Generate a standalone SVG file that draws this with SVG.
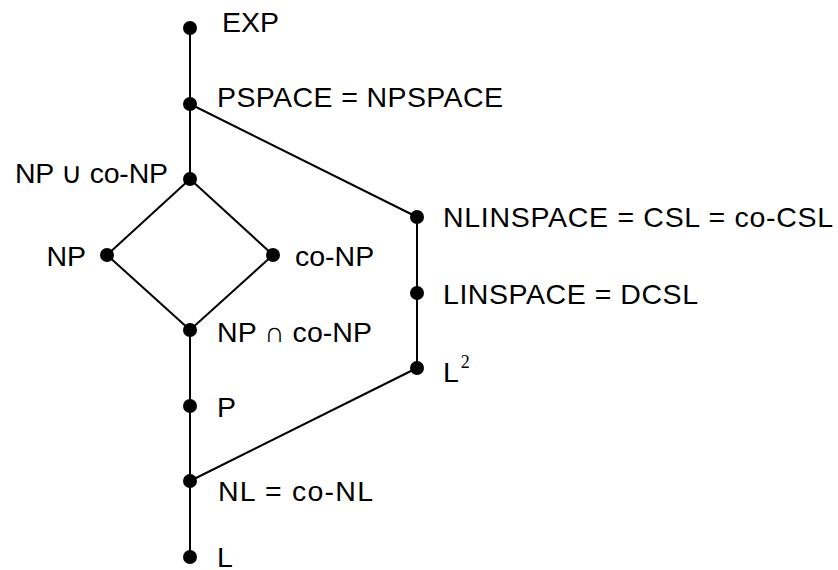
<svg xmlns="http://www.w3.org/2000/svg" width="838" height="570" viewBox="0 0 838 570">
<style>
.e{stroke:#000;stroke-width:2;fill:none}
.d{fill:#000}
text{font-family:"Liberation Sans",Arial,sans-serif;font-size:28.5px;fill:#000}
.sup{font-family:"Liberation Serif",serif;font-size:18px}
</style>
<rect width="838" height="570" fill="#fff"/>
<g id="connectors">
<line class="e" x1="190" y1="28" x2="190" y2="104"/>
<line class="e" x1="190" y1="104" x2="190" y2="179"/>
<line class="e" x1="190" y1="104" x2="417" y2="217"/>
<line class="e" x1="190" y1="179" x2="107" y2="255"/>
<line class="e" x1="190" y1="179" x2="273" y2="255"/>
<line class="e" x1="107" y1="255" x2="190" y2="330"/>
<line class="e" x1="273" y1="255" x2="190" y2="330"/>
<line class="e" x1="190" y1="330" x2="190" y2="406"/>
<line class="e" x1="190" y1="406" x2="190" y2="481"/>
<line class="e" x1="190" y1="481" x2="190" y2="557"/>
<line class="e" x1="417" y1="217" x2="417" y2="293"/>
<line class="e" x1="417" y1="293" x2="417" y2="368"/>
<line class="e" x1="417" y1="368" x2="190" y2="481"/>
</g>
<g id="EXP"><circle class="d" cx="190" cy="28" r="7"/><text x="222" y="32">EXP</text></g>
<g id="PSPACE"><circle class="d" cx="190" cy="104" r="7"/><text x="217" y="107" textLength="286">PSPACE = NPSPACE</text></g>
<g id="NPuCoNP"><circle class="d" cx="190" cy="179" r="7"/><text x="168" y="183" text-anchor="end" textLength="153">NP ∪ co-NP</text></g>
<g id="NP"><circle class="d" cx="107" cy="255" r="7"/><text x="86" y="266" text-anchor="end">NP</text></g>
<g id="coNP"><circle class="d" cx="273" cy="255" r="7"/><text x="295" y="266">co-NP</text></g>
<g id="NPnCoNP"><circle class="d" cx="190" cy="330" r="7"/><text x="217" y="342" textLength="155">NP ∩ co-NP</text></g>
<g id="P"><circle class="d" cx="190" cy="406" r="7"/><text x="217" y="417">P</text></g>
<g id="NL"><circle class="d" cx="190" cy="481" r="7"/><text x="218" y="501" textLength="155">NL = co-NL</text></g>
<g id="L"><circle class="d" cx="190" cy="557" r="7"/><text x="217" y="567">L</text></g>
<g id="NLINSPACE"><circle class="d" cx="417" cy="217" r="7"/><text x="443" y="227" textLength="390">NLINSPACE = CSL = co-CSL</text></g>
<g id="LINSPACE"><circle class="d" cx="417" cy="293" r="7"/><text x="443" y="304" textLength="255">LINSPACE = DCSL</text></g>
<g id="L2"><circle class="d" cx="417" cy="368" r="7"/><text x="443" y="382">L<tspan class="sup" dx="2" dy="-14">2</tspan></text></g>
</svg>
